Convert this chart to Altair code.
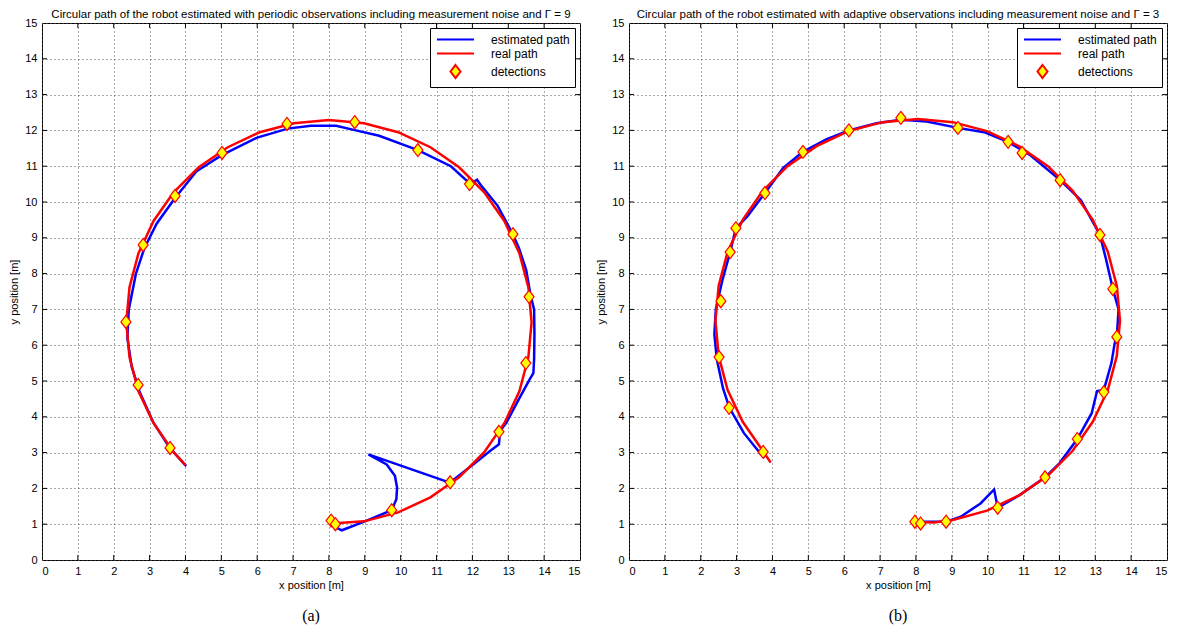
import altair as alt
import pandas as pd

SERIES = ["estimated path", "real path", "detections"]
TICKS = list(range(16))
INNER_TICKS = list(range(1, 15))

TITLE_A = "Circular path of the robot estimated with periodic observations including measurement noise and \u0393 = 9"
TITLE_B = "Circular path of the robot estimated with adaptive observations including measurement noise and \u0393 = 3"

# ---- panel (a) ----
real_a_x = [8.08, 8.98, 9.93, 10.83, 11.63, 12.33, 12.89, 13.31, 13.56, 13.65, 13.56, 13.31, 12.89, 12.33, 11.63, 10.83, 9.93, 8.98, 8.0, 7.02, 6.07, 5.18, 4.37, 3.67, 3.11, 2.69, 2.44, 2.35, 2.44, 2.69, 3.11, 3.67, 4.0]
real_a_y = [1.02, 1.08, 1.33, 1.75, 2.31, 3.01, 3.82, 4.71, 5.66, 6.64, 7.62, 8.57, 9.47, 10.27, 10.97, 11.53, 11.95, 12.20, 12.29, 12.20, 11.95, 11.53, 10.97, 10.27, 9.47, 8.57, 7.62, 6.64, 5.66, 4.71, 3.82, 3.01, 2.65]
est_a_x = [8.12, 8.25, 8.36, 9.0, 9.75, 9.88, 9.9, 9.84, 9.61, 9.10, 11.37, 12.02, 12.5, 12.74, 12.77, 12.95, 13.3, 13.6, 13.7, 13.72, 13.73, 13.72, 13.62, 13.5, 13.3, 13.13, 12.7, 12.25, 12.13, 11.95, 11.4, 10.48, 9.4, 8.75, 8.2, 7.5, 6.85, 6.0, 5.0, 4.3, 3.7, 3.2, 2.85, 2.62, 2.42, 2.38, 2.5, 2.72, 3.1, 3.55, 4.02]
est_a_y = [1.0, 0.88, 0.83, 1.08, 1.39, 1.70, 2.02, 2.35, 2.67, 2.95, 2.16, 2.67, 3.05, 3.23, 3.6, 3.84, 4.5, 5.05, 5.22, 5.6, 6.3, 7.0, 7.4, 8.1, 8.7, 9.1, 9.9, 10.45, 10.62, 10.5, 11.0, 11.45, 11.85, 12.0, 12.13, 12.13, 12.05, 11.8, 11.3, 10.85, 10.1, 9.4, 8.7, 8.0, 7.0, 6.2, 5.4, 4.7, 3.85, 3.15, 2.62]
det_a_x = [8.06, 8.18, 9.75, 11.38, 12.74, 13.49, 13.58, 13.13, 11.92, 10.48, 8.72, 6.83, 5.02, 3.71, 2.82, 2.34, 2.68, 3.57]
det_a_y = [1.10, 1.00, 1.39, 2.17, 3.58, 5.50, 7.35, 9.10, 10.50, 11.45, 12.23, 12.18, 11.37, 10.17, 8.80, 6.65, 4.89, 3.13]

# ---- panel (b) ----
real_b_x = [8.0, 8.5, 9.03, 9.98, 10.87, 11.68, 12.37, 12.93, 13.35, 13.60, 13.69, 13.60, 13.35, 12.93, 12.37, 11.68, 10.87, 9.98, 9.03, 8.05, 7.07, 6.12, 5.23, 4.42, 3.73, 3.17, 2.75, 2.50, 2.41, 2.50, 2.75, 3.17, 3.73, 3.95]
real_b_y = [1.06, 1.05, 1.12, 1.38, 1.80, 2.36, 3.05, 3.86, 4.75, 5.70, 6.68, 7.66, 8.61, 9.50, 10.31, 11.00, 11.56, 11.98, 12.23, 12.32, 12.23, 11.98, 11.56, 11.00, 10.31, 9.50, 8.61, 7.66, 6.68, 5.70, 4.75, 3.86, 3.05, 2.72]
est_b_x = [8.0, 8.84, 9.25, 9.8, 10.18, 10.28, 10.9, 11.6, 12.0, 12.5, 12.9, 13.05, 13.24, 13.45, 13.55, 13.6, 13.65, 13.49, 13.3, 13.13, 12.6, 12.02, 11.2, 10.57, 9.9, 9.17, 8.3, 7.58, 6.9, 6.13, 5.5, 4.85, 4.3, 3.79, 3.3, 2.98, 2.82, 2.6, 2.42, 2.38, 2.45, 2.62, 2.8, 3.2, 3.6, 3.77]
est_b_y = [1.07, 1.07, 1.21, 1.58, 1.97, 1.46, 1.82, 2.31, 2.7, 3.38, 4.1, 4.72, 4.75, 5.5, 6.1, 6.23, 7.0, 7.57, 8.4, 9.08, 10.05, 10.61, 11.3, 11.68, 11.95, 12.07, 12.25, 12.3, 12.2, 12.0, 11.75, 11.4, 10.95, 10.25, 9.6, 9.27, 8.6, 7.8, 7.0, 6.3, 5.6, 4.8, 4.25, 3.55, 3.05, 2.85]
det_b_x = [7.97, 8.13, 8.84, 10.28, 11.60, 12.50, 13.24, 13.60, 13.49, 13.13, 12.02, 10.96, 10.57, 9.17, 7.58, 6.13, 4.85, 3.79, 2.98, 2.82, 2.56, 2.51, 2.79, 3.74]
det_b_y = [1.07, 1.02, 1.07, 1.46, 2.31, 3.38, 4.69, 6.23, 7.57, 9.08, 10.61, 11.37, 11.68, 12.07, 12.35, 12.00, 11.40, 10.25, 9.27, 8.60, 7.23, 5.67, 4.25, 3.02]

W, H = 538, 537
FONT = "Liberation Sans"
DIAMOND = "M0,-1.18L0.91,0L0,1.18L-0.91,0Z"
LINE = "M-3.36,0L3.36,0"
SYM = 121


def panel(rx, ry, ex, ey, dx, dy, title, caption):
    real = pd.DataFrame({"x": rx, "y": ry, "o": list(range(len(rx))), "series": "real path"})
    est = pd.DataFrame({"x": ex, "y": ey, "o": list(range(len(ex))), "series": "estimated path"})
    det = pd.DataFrame({"x": dx, "y": dy, "series": "detections"})
    xt = pd.DataFrame({"x": INNER_TICKS})
    yt = pd.DataFrame({"y": INNER_TICKS})

    xsc = alt.Scale(domain=[0, 15], nice=False, zero=False)
    ysc = alt.Scale(domain=[0, 15], nice=False, zero=False)
    xax = alt.Axis(values=TICKS, title="x position [m]", grid=True, ticks=False,
                   gridDash=[1, 3], gridColor="#555", gridWidth=1,
                   labelPadding=5, titlePadding=3, domain=False)
    yax = alt.Axis(values=TICKS, title="y position [m]", grid=True, ticks=False,
                   gridDash=[1, 3], gridColor="#555", gridWidth=1,
                   labelPadding=5, titlePadding=5, domain=False)
    X = alt.X("x:Q", scale=xsc, axis=xax)
    Y = alt.Y("y:Q", scale=ysc, axis=yax)

    stroke_scale = alt.Scale(domain=SERIES, range=["#0000FF", "#FF0000", "#FF0000"])
    fill_scale = alt.Scale(domain=SERIES, range=["transparent", "transparent", "#FFFF00"])
    shape_scale = alt.Scale(domain=SERIES, range=[LINE, LINE, DIAMOND])
    leg = alt.Legend(title=None, orient="top-right", offset=5, strokeColor="black",
                     fillColor="white", padding=5, symbolSize=SYM, symbolStrokeWidth=2,
                     symbolOffset=14, labelOffset=29,
                     labelFont=FONT, labelFontSize=12, labelColor="black",
                     rowPadding=1)

    est_line = alt.Chart(est).mark_line(strokeWidth=2.5).encode(
        x=X, y=Y, order="o:Q",
        stroke=alt.Stroke("series:N", scale=stroke_scale, legend=leg))
    real_line = alt.Chart(real).mark_line(strokeWidth=2.5).encode(
        x=X, y=Y, order="o:Q",
        stroke=alt.Stroke("series:N", scale=stroke_scale, legend=leg))
    pts = alt.Chart(det).mark_point(filled=True, size=SYM, strokeWidth=1.2, opacity=1).encode(
        x=X, y=Y,
        fill=alt.Fill("series:N", scale=fill_scale, legend=leg),
        stroke=alt.Stroke("series:N", scale=stroke_scale, legend=leg),
        shape=alt.Shape("series:N", scale=shape_scale, legend=leg))

    tb = alt.Chart(xt).mark_rule(color="black", strokeWidth=1).encode(
        x=X, y=alt.value(H), y2=alt.value(H - 5))
    tt = alt.Chart(xt).mark_rule(color="black", strokeWidth=1).encode(
        x=X, y=alt.value(0), y2=alt.value(5))
    tl = alt.Chart(yt).mark_rule(color="black", strokeWidth=1).encode(
        y=Y, x=alt.value(0), x2=alt.value(5))
    tr = alt.Chart(yt).mark_rule(color="black", strokeWidth=1).encode(
        y=Y, x=alt.value(W), x2=alt.value(W - 5))

    cap = alt.Chart(pd.DataFrame({"t": [caption]})).mark_text(
        font="Liberation Serif", fontSize=16, align="center", baseline="middle", color="black"
    ).encode(text="t:N", x=alt.value(W / 2), y=alt.value(H + 56))

    return alt.layer(tb, tt, tl, tr, est_line, real_line, pts, cap).properties(
        width=W, height=H,
        title=alt.TitleParams(text=title, font=FONT, fontSize=11.5, fontWeight="normal",
                              anchor="middle", offset=-3, frame="group", color="black"))


pa = panel(real_a_x, real_a_y, est_a_x, est_a_y, det_a_x, det_a_y, TITLE_A, "(a)")
pb = panel(real_b_x, real_b_y, est_b_x, est_b_y, det_b_x, det_b_y, TITLE_B, "(b)")

chart = alt.hconcat(pa, pb, spacing=14).resolve_scale(
    stroke="independent", fill="independent", shape="independent"
).resolve_legend(
    stroke="independent", fill="independent", shape="independent"
).properties(padding=0).configure_view(
    stroke="black", strokeWidth=1
).configure_axis(
    labelFont=FONT, labelFontSize=11, labelColor="black",
    titleFont=FONT, titleFontSize=11, titleFontWeight="normal", titleColor="black"
)

chart.save("out.html", embed_options={"renderer": "svg", "actions": False})
